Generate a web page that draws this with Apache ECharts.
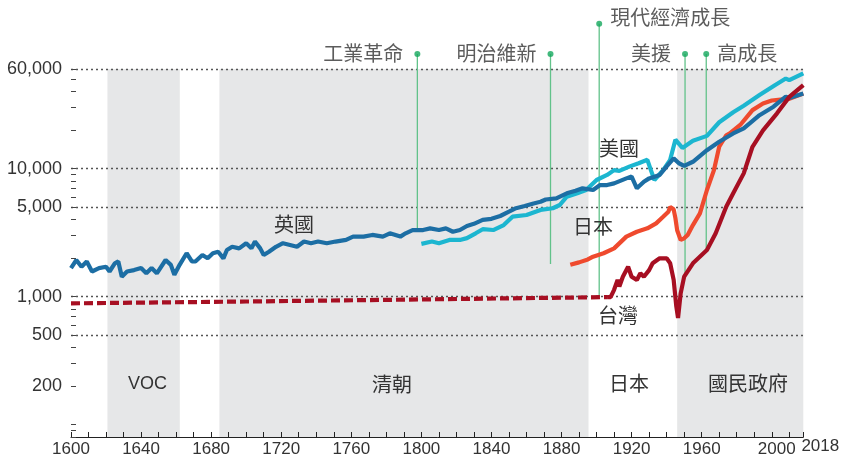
<!DOCTYPE html>
<html><head><meta charset="utf-8">
<script src="https://cdn.jsdelivr.net/npm/echarts@6/dist/echarts.min.js"></script>
<style>html,body{margin:0;padding:0;background:#fff}#c{width:844px;height:457px}</style>
</head><body><div id="c"></div><script>
// ---- data ----
const ukYears = [1600,1603,1606,1609,1612,1616,1620,1622,1625,1627,1629,1632,1636,1640,1643,1646,1649,1650,1654,1657,1659,1662,1666,1669,1671,1675,1678,1681,1684,1687,1689,1692,1696,1700,1703,1705,1708,1710,1713,1717,1721,1725,1729,1733,1737,1741,1746,1751,1757,1761,1767,1772,1778,1782,1788,1791,1795,1801,1805,1810,1814,1818,1822,1826,1830,1835,1840,1845,1850,1854,1859,1864,1868,1871,1877,1883,1888,1892,1898,1902,1906,1910,1917,1920,1923,1927,1930,1936,1940,1944,1947,1950,1955,1963,1970,1978,1984,1993,2001,2008,2010,2018];
const ukValues = [1665,1930,1710,1880,1570,1670,1710,1570,1820,1880,1430,1570,1610,1670,1520,1670,1520,1480,1930,1770,1480,1770,2180,1880,1880,2110,1990,2180,2240,1990,2310,2450,2380,2610,2380,2690,2380,2110,2240,2450,2610,2530,2450,2690,2610,2690,2610,2690,2770,2940,2940,3030,2940,3120,2940,3120,3310,3310,3410,3310,3410,3210,3310,3560,3700,3970,4050,4260,4600,4900,5100,5340,5500,5730,5850,6410,6700,7010,6800,7430,7430,7660,8380,8660,7010,7890,8380,8910,10400,12000,11000,10500,11300,13900,16200,18800,20600,26100,30400,36500,35500,38600];

const usYears = [1800,1806,1810,1816,1822,1826,1831,1835,1841,1847,1852,1860,1868,1875,1879,1883,1889,1894,1900,1906,1910,1913,1919,1924,1929,1931,1933,1938,1942,1945,1949,1955,1963,1970,1978,1984,1993,2002,2008,2010,2018];
const usValues = [2580,2690,2610,2770,2770,2860,3120,3360,3310,3620,4210,4340,4750,4900,5190,6030,6410,6800,8140,8910,9720,9600,10400,11000,11700,9720,8140,9720,11700,16800,14500,16500,18000,23000,27500,31000,37500,45000,50500,49000,55400];

const jpYears = [1885,1890,1895,1898,1904,1910,1917,1923,1929,1934,1938,1941,1942,1944,1945,1946,1948,1950,1952,1955,1959,1963,1967,1970,1974,1976,1982,1989,1995,2000,2005,2010,2018];
const jpValues = [1770,1850,1950,2050,2180,2380,2940,3210,3410,3730,4200,4600,5000,4800,4100,3300,2770,2850,3030,3620,4470,6800,9720,14800,18200,18800,21900,28600,32200,34000,34500,35000,38500];

const twOldYears = [1600,1700,1800,1906];
const twOldValues = [885,915,950,990];

const twYears = [1906,1908,1910,1912,1913,1915,1918,1920,1923,1925,1927,1930,1932,1936,1940,1942,1944,1945.5,1946.5,1948,1950,1955,1963,1968,1974,1978,1984,1989,1995,2003,2010,2018];
const twValues = [990,990,1130,1350,1200,1430,1710,1430,1350,1520,1430,1610,1820,1990,1990,1820,1350,840,680,1060,1430,1820,2310,3120,5040,6410,9170,14800,19900,27000,36300,44900];

const eraNames = ['VOC','清朝','日本','國民政府'];
const eraStart = [1620.8,1684.7,1895.4,1946];
const eraEnd = [1662.1,1895.4,1946,2018];
const eraShaded = [true,true,false,true];

const annoNames = ['工業革命','明治維新','現代經濟成長','美援','高成長'];
const annoYears = [1797.7,1873.7,1901.5,1950.5,1962.6];
const annoBase = [3310,1800,990,1430,2310];
const annoTop = [78500,78500,135000,78500,78500];
const annoSide = ['left','left','right','left','right'];

const xLabelValues = [1600,1640,1680,1720,1760,1800,1840,1880,1920,1960,2000,2018];
const yLabelValues = [200,500,1000,5000,10000,60000];
const yGridValues = [500,1000,5000,10000,60000];
const yMinorTicks = [80,90,100,200,300,400,500,600,700,800,900,1000,2000,3000,4000,5000,6000,7000,8000,9000,10000,20000,30000,40000,50000,60000];

// ---- build ----
const zip = (a,b) => a.map((v,i)=>[v,b[i]]);
const SANS = "'Liberation Sans',Arial,sans-serif";
const CJK = "'Noto Sans CJK TC','Noto Sans CJK SC',sans-serif";
const xTicks = [];
for (let y = 1600; y <= 2010; y += 10) xTicks.push(y);
xTicks.push(2018);

const lineBase = {type:'line', symbol:'none', showSymbol:false, smooth:false, z:4, silent:true, animation:false};
const LW = 4.2;

const series = [];
// background bands
series.push({
  type:'line', data:[], silent:true, animation:false,
  markArea:{
    silent:true, z:1,
    data: eraNames.map((n,i)=>[
      {xAxis:eraStart[i], yAxis:80, itemStyle:{color: eraShaded[i] ? '#e6e7e8' : 'rgba(0,0,0,0)'}},
      {xAxis:eraEnd[i], yAxis:60000}
    ])
  }
});
// annotation lines
annoNames.forEach((n,i)=>{
  series.push(Object.assign({}, lineBase, {
    z:3,
    data:[[annoYears[i], annoBase[i]],[annoYears[i], annoTop[i]]],
    lineStyle:{color:'#62c28a', width:1.3}
  }));
});
series.push(Object.assign({}, lineBase, {name:'台灣old', data:zip(twOldYears,twOldValues), lineStyle:{color:'#a70f22', width:LW, type:[9,4]}}));
series.push(Object.assign({}, lineBase, {name:'日本', data:zip(jpYears,jpValues), lineStyle:{color:'#ef4a2e', width:LW}}));
series.push(Object.assign({}, lineBase, {name:'美國', data:zip(usYears,usValues), lineStyle:{color:'#1cb6d0', width:LW}}));
series.push(Object.assign({}, lineBase, {name:'英國', data:zip(ukYears,ukValues), lineStyle:{color:'#1c6ea4', width:LW}}));
series.push(Object.assign({}, lineBase, {name:'台灣', data:zip(twYears,twValues), lineStyle:{color:'#a70f22', width:LW}}));
// annotation dots + text
series.push({
  type:'scatter', z:6, silent:true, animation:false,
  symbol:'circle', symbolSize:6,
  itemStyle:{color:'#14a85c'},
  data: annoNames.map((n,i)=>({
    name:n, value:[annoYears[i], annoTop[i]],
    label:{show:true, position:annoSide[i], distance: annoSide[i]==='left'?11:8,
      offset: i===2 ? [0,-6] : [0,-1],
      formatter:'{b}', fontFamily:CJK, fontSize:20, color:'#333'}
  }))
});

const txt = (t, x, y, font, size) => ({type:'text', x:x, y:y, z:10, silent:true,
  style:{text:t, font: size+'px '+font, fill:'#333', align:'center', verticalAlign:'middle', textAlign:'center', textVerticalAlign:'middle'}});

const chart = echarts.init(document.getElementById('c'), null, {renderer:'canvas'});
chart.setOption({
  animation:false,
  backgroundColor:'#fff',
  grid:{left:71, right:40.7, top:2, bottom:20, outerBoundsMode:'none', containLabel:false},
  xAxis:{
    type:'value', min:1600, max:2018, interval:10, z:2,
    axisLine:{show:true, lineStyle:{color:'#222', width:1}},
    axisTick:{show:true, inside:true, length:5, customValues:xTicks, lineStyle:{color:'#222', width:1}},
    axisLabel:{show:true, customValues:xLabelValues, hideOverlap:false, showMinLabel:true, showMaxLabel:true, margin:1,
      fontFamily:SANS, fontSize:17, color:'#333',
      formatter: v => v===2018 ? '{e|2018}' : (v===2000 ? '{d|2000}' : '{n|'+v+'}'),
      rich:{
        n:{padding:[3,0,0,0], fontFamily:SANS, fontSize:17, color:'#333'},
        d:{padding:[3,0,0,10], fontFamily:SANS, fontSize:17, color:'#333'},
        e:{padding:[0,0,0,34], fontFamily:SANS, fontSize:17, color:'#333'}
      }},
    splitLine:{show:false}
  },
  yAxis:[
    {type:'log', logBase:10, min:80, max:200000, position:'left', z:2,
     axisLine:{show:false},
     axisTick:{show:true, inside:true, length:5, customValues:yMinorTicks, lineStyle:{color:'#444', width:1}},
     axisLabel:{show:false},
     splitLine:{show:false}},
    {type:'log', logBase:10, min:80, max:200000, position:'left', offset:0, z:2,
     axisLine:{show:false},
     axisTick:{show:false, customValues:yGridValues},
     axisLabel:{show:true, customValues:yLabelValues, margin:9, hideOverlap:false,
       fontFamily:SANS, fontSize:18, color:'#333',
       formatter: v => Number(v).toLocaleString('en-US')},
     splitLine:{show:true, lineStyle:{color:'#555', width:1.3, type:[2,3]}}}
  ],
  series: series,
  graphic:[
    txt('英國', 294, 224, CJK, 20),
    txt('美國', 619, 148, CJK, 20),
    txt('日本', 593, 226, CJK, 20),
    txt('台灣', 618, 315, CJK, 20),
    txt(eraNames[0], 147.5, 384, SANS, 18),
    txt(eraNames[1], 392, 384, CJK, 20),
    txt(eraNames[2], 629, 383, CJK, 20),
    txt(eraNames[3], 748, 383, CJK, 20)
  ]
});
</script></body></html>
